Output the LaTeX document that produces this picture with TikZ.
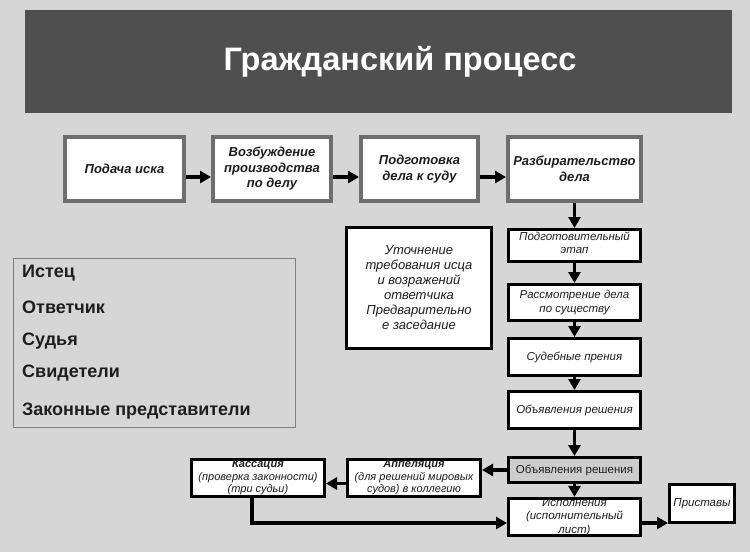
\documentclass[tikz,border=0pt]{standalone}
\usepackage{fontspec}
\setmainfont{Liberation Sans}
\usepackage{xcolor}
\usepackage{tikz}
\usetikzlibrary{arrows.meta}
\definecolor{bggray}{HTML}{D6D6D6}
\definecolor{headgray}{HTML}{4F4F4F}
\definecolor{framegray}{HTML}{6E6E6E}
\definecolor{inkgray}{HTML}{1E1E1E}
\definecolor{boxgray}{HTML}{CDCDCD}
\tikzset{
	stagebox/.style={draw=framegray, line width=4pt, fill=white, text=inkgray, align=center, inner sep=0pt,
		font=\fontsize{13}{15.5}\selectfont\bfseries\itshape},
	subbox/.style={draw=black, line width=3pt, fill=white, text=inkgray, align=center, inner sep=0pt,
		font=\fontsize{11.5}{13.5}\selectfont\itshape},
	castitem/.style={anchor=west, inner sep=0pt, text=inkgray, font=\fontsize{18}{21}\selectfont\bfseries},
	link/.style={line width=3.2pt, -{Triangle[length=11pt,width=12pt]}}
}

\begin{document}
\begin{tikzpicture}[x=1pt, y=-1pt]
	\fill[bggray] (0,0) rectangle (750,552);
	\fill[headgray] (25,10) rectangle (732,113);
	\node[text=white, font=\fontsize{32.5}{38}\selectfont\bfseries] (title) at (400,62) {Гражданский процесс};

	\node[stagebox, minimum width=119, minimum height=64] (filing) at (124.5,169) {Подача иска};
	\node[stagebox, minimum width=118, minimum height=64] (opening) at (272,169) {Возбуждение\\производства\\по делу};
	\node[stagebox, minimum width=117, minimum height=64] (prep) at (419.5,169) {Подготовка\\дела к суду};
	\node[stagebox, minimum width=133, minimum height=64] (trial) at (574.5,169) {Разбирательство\\дела};
	\foreach \a/\b in {filing/opening, opening/prep, prep/trial}
		\draw[link] ([yshift=-8pt]\a.east) -- ([yshift=-8pt]\b.west);

	\node[subbox, minimum width=132, minimum height=32, text depth=6pt] (stage) at (574.5,245.5) {Подготовительный\\этап};
	\node[subbox, minimum width=132, minimum height=36] (merits) at (574.5,302.5) {Рассмотрение дела\\по существу};
	\node[subbox, minimum width=132, minimum height=37] (debate) at (574.5,357) {Судебные прения};
	\node[subbox, minimum width=132, minimum height=37] (verdict) at (574.5,410) {Объявления решения};
	\node[subbox, minimum width=132, minimum height=25, fill=boxgray, font=\fontsize{11.5}{13.5}\selectfont] (verdictb) at (574.5,470) {Объявления решения};
	\node[subbox, minimum width=132, minimum height=37] (exec) at (574.5,517) {Исполнения\\(исполнительный\\лист)};
	\node[subbox, minimum width=65, minimum height=38] (bailiff) at (702,503.5) {Приставы};
	\node[subbox, minimum width=133, minimum height=37, font=\fontsize{11}{12.8}\selectfont\itshape] (appeal) at (414,477.5) {\textbf{Аппеляция}\\(для решений мировых\\судов) в коллегию};
	\node[subbox, minimum width=133, minimum height=37, font=\fontsize{11}{12.8}\selectfont\itshape] (cassation) at (258,477.5) {\textbf{Кассация}\\(проверка законности)\\(три судьи)};
	\node[subbox, minimum width=145, minimum height=121, font=\fontsize{13}{15}\selectfont\itshape] (clarify) at (419,288) {Уточнение\\требования исца\\и возражений\\ответчика\\Предварительно\\е заседание};

	\foreach \a/\b in {trial/stage, stage/merits, merits/debate, debate/verdict, verdict/verdictb, verdictb/exec}
		\draw[link] (\a.south) -- (\b.north);
	\draw[link] (verdictb.west) -- (verdictb.west -| appeal.east);
	\draw[link] ([yshift=-6pt]appeal.west) -- ([yshift=-6pt]cassation.east);
	\draw[link] ([xshift=-6pt]cassation.south) |- ([yshift=-6pt]exec.west);
	\coordinate (execout) at ([yshift=-6pt]exec.east);
	\draw[link] (execout) -- (execout -| bailiff.west);

	\draw[color=gray, line width=1pt] (13,258) rectangle (295,427);
	\node[castitem] (plaintiff) at (22,273) {Истец};
	\node[castitem] (defendant) at (22,307) {Ответчик};
	\node[castitem] (judge) at (22,341) {Судья};
	\node[castitem] (witness) at (22,373) {Свидетели};
	\node[castitem] (proxy) at (22,411) {Законные представители};
\end{tikzpicture}
\end{document}
